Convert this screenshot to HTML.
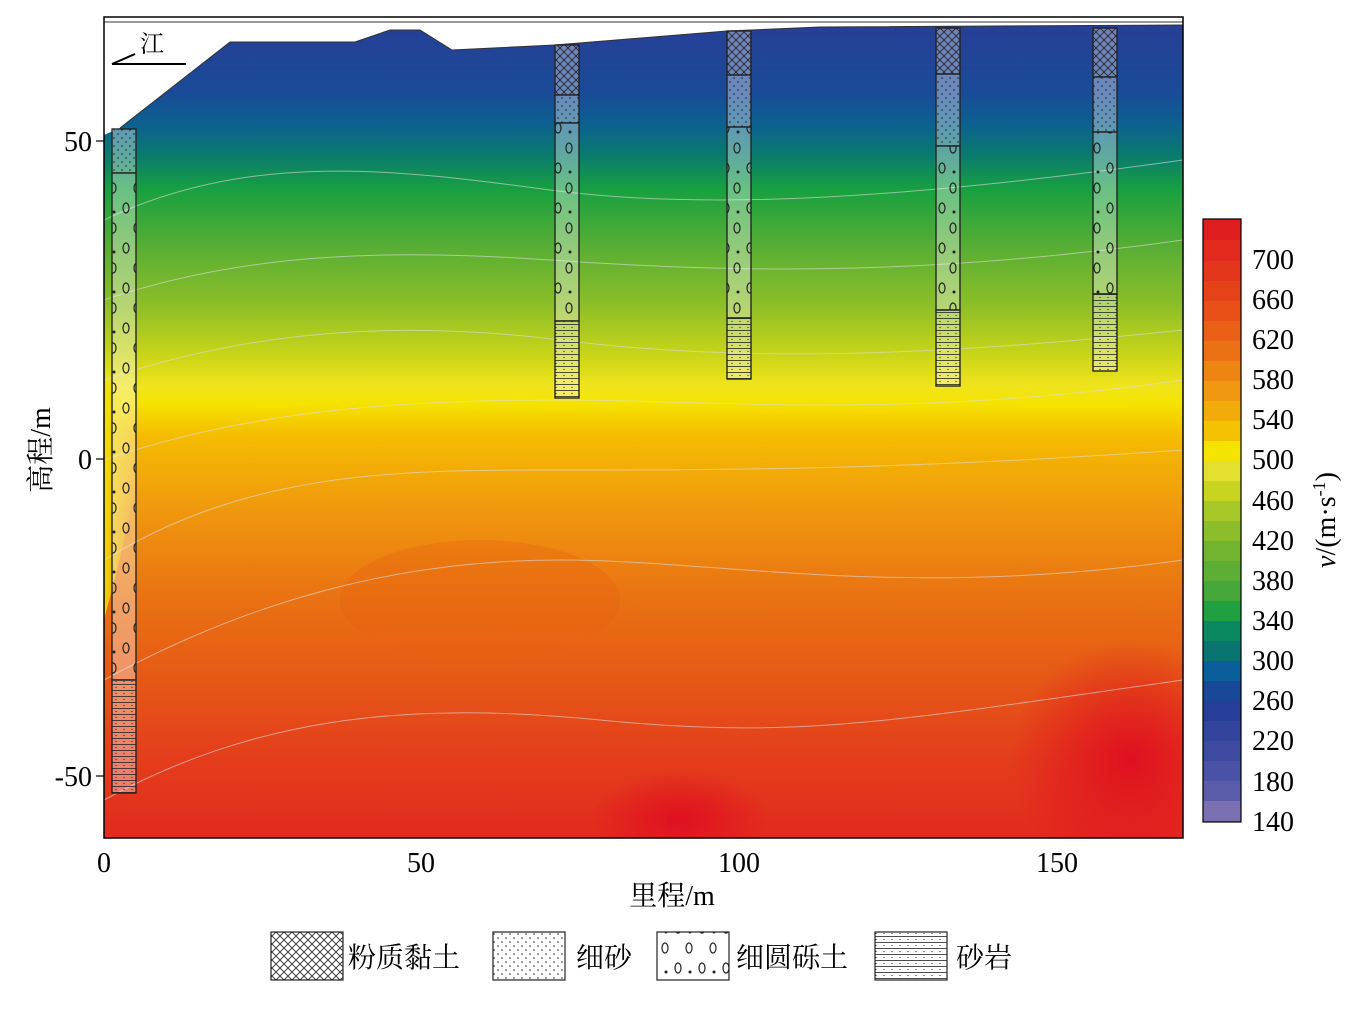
<!DOCTYPE html>
<html><head><meta charset="utf-8"><style>
body{margin:0;background:#fff;}
svg text{font-family:"Liberation Serif","Noto Serif CJK SC",serif;}
</style></head><body>
<svg width="1358" height="1011" viewBox="0 0 1358 1011" xmlns="http://www.w3.org/2000/svg">
<defs>
<clipPath id="pc"><rect x="104" y="17" width="1079" height="821"/></clipPath>
<linearGradient id="g" x1="0" y1="0" x2="0" y2="1" gradientUnits="objectBoundingBox">
<stop offset="0" stop-color="#283e96"/>
<stop offset="0.09" stop-color="#1a4a98"/>
<stop offset="0.13" stop-color="#0c6090"/>
<stop offset="0.17" stop-color="#0a7c6c"/>
<stop offset="0.21" stop-color="#18a040"/>
<stop offset="0.28" stop-color="#58ae34"/>
<stop offset="0.35" stop-color="#8cbe28"/>
<stop offset="0.41" stop-color="#c8d418"/>
<stop offset="0.45" stop-color="#f0e41c"/>
<stop offset="0.47" stop-color="#f5e400"/>
<stop offset="0.51" stop-color="#f5bc00"/>
<stop offset="0.60" stop-color="#f0980e"/>
<stop offset="0.70" stop-color="#ea7412"/>
<stop offset="0.80" stop-color="#e65a16"/>
<stop offset="0.90" stop-color="#e43e1c"/>
<stop offset="1" stop-color="#e22a1e"/>
</linearGradient>
<linearGradient id="gl" x1="0" y1="0" x2="1" y2="0">
<stop offset="0" stop-color="#f0e000" stop-opacity="0.9"/>
<stop offset="1" stop-color="#f0e000" stop-opacity="0"/>
</linearGradient>
<radialGradient id="rr" cx="0.5" cy="0.5" r="0.5">
<stop offset="0" stop-color="#e01020"/>
<stop offset="1" stop-color="#e01020" stop-opacity="0"/>
</radialGradient>
<pattern id="cross" width="8" height="8" patternUnits="userSpaceOnUse">
<path d="M0,0L8,8M8,0L0,8" stroke="#222" stroke-width="0.8"/>
</pattern>
<pattern id="dots" width="8" height="8" patternUnits="userSpaceOnUse">
<circle cx="2" cy="2" r="0.8" fill="#222"/><circle cx="6" cy="6" r="0.8" fill="#222"/>
</pattern>
<pattern id="gravel" width="24" height="40" patternUnits="userSpaceOnUse">
<ellipse cx="6" cy="8" rx="3" ry="5" fill="none" stroke="#222" stroke-width="1.2"/>
<ellipse cx="17" cy="28" rx="3" ry="5" fill="none" stroke="#222" stroke-width="1.2"/>
<circle cx="18" cy="12" r="1.5" fill="#222"/>
</pattern>
<pattern id="sand" width="8" height="6" patternUnits="userSpaceOnUse">
<path d="M0,0.5H8" stroke="#222" stroke-width="0.8"/>
<circle cx="4" cy="3.5" r="0.6" fill="#222"/>
</pattern>
</defs>
<g clip-path="url(#pc)">
<rect x="104" y="17" width="1079" height="821" fill="url(#g)"/>
<path d="M104,380 C160,420 130,520 104,620 Z" fill="url(#gl)"/>
<ellipse cx="1130" cy="760" rx="120" ry="120" fill="url(#rr)"/>
<ellipse cx="680" cy="820" rx="90" ry="50" fill="url(#rr)"/>
<ellipse cx="480" cy="600" rx="140" ry="60" fill="#e86012" opacity="0.35"/>
<g fill="none" stroke="#ddd" stroke-width="1" opacity="0.6">
<path d="M104,220 C250,150 400,170 550,190 S900,200 1183,160"/>
<path d="M104,300 C250,250 400,250 550,260 S900,280 1183,240"/>
<path d="M104,380 C250,330 400,320 560,340 S900,360 1183,330"/>
<path d="M104,460 C250,410 400,400 560,400 S900,420 1183,380"/>
<path d="M104,560 C250,470 400,470 560,470 S900,470 1183,450"/>
<path d="M104,680 C250,600 400,560 560,560 S900,600 1183,560"/>
<path d="M104,800 C250,720 400,700 600,720 S900,720 1183,680"/>
</g>
</g>
<path d="M104,17 H1183 V25 L820,27 L727,31 L555,45 L452,50 L420,30 L390,30 L355,42 L230,42 L120,128 L104,135 Z" fill="#fff"/>
<path d="M120,128 L230,42 L355,42 L390,30 L420,30 L452,50 L555,45 L727,31 L820,27 L1183,25" fill="none" stroke="#333" stroke-width="1"/>
<line x1="104" y1="22" x2="1183" y2="22" stroke="#333"/>
<rect x="104" y="17" width="1079" height="821" fill="none" stroke="#000" stroke-width="1.5"/>
<path d="M112,64 L135,54 M112,64 H186" stroke="#000" stroke-width="2" fill="none"/>
<text x="140" y="52" font-size="24">江</text>
<g stroke="#222" stroke-width="1.2">
<rect x="112" y="129" width="24" height="44" fill="#fff" fill-opacity="0.35"/><rect x="112" y="129" width="24" height="44" fill="url(#dots)"/>
<rect x="112" y="173" width="24" height="507" fill="#fff" fill-opacity="0.35"/><rect x="112" y="173" width="24" height="507" fill="url(#gravel)"/>
<rect x="112" y="680" width="24" height="113" fill="#fff" fill-opacity="0.35"/><rect x="112" y="680" width="24" height="113" fill="url(#sand)"/>
<rect x="555" y="45" width="24" height="50" fill="#fff" fill-opacity="0.35"/><rect x="555" y="45" width="24" height="50" fill="url(#cross)"/>
<rect x="555" y="95" width="24" height="28" fill="#fff" fill-opacity="0.35"/><rect x="555" y="95" width="24" height="28" fill="url(#dots)"/>
<rect x="555" y="123" width="24" height="198" fill="#fff" fill-opacity="0.35"/><rect x="555" y="123" width="24" height="198" fill="url(#gravel)"/>
<rect x="555" y="321" width="24" height="77" fill="#fff" fill-opacity="0.35"/><rect x="555" y="321" width="24" height="77" fill="url(#sand)"/>
<rect x="727" y="31" width="24" height="44" fill="#fff" fill-opacity="0.35"/><rect x="727" y="31" width="24" height="44" fill="url(#cross)"/>
<rect x="727" y="75" width="24" height="52" fill="#fff" fill-opacity="0.35"/><rect x="727" y="75" width="24" height="52" fill="url(#dots)"/>
<rect x="727" y="127" width="24" height="191" fill="#fff" fill-opacity="0.35"/><rect x="727" y="127" width="24" height="191" fill="url(#gravel)"/>
<rect x="727" y="318" width="24" height="61" fill="#fff" fill-opacity="0.35"/><rect x="727" y="318" width="24" height="61" fill="url(#sand)"/>
<rect x="936" y="28" width="24" height="46" fill="#fff" fill-opacity="0.35"/><rect x="936" y="28" width="24" height="46" fill="url(#cross)"/>
<rect x="936" y="74" width="24" height="72" fill="#fff" fill-opacity="0.35"/><rect x="936" y="74" width="24" height="72" fill="url(#dots)"/>
<rect x="936" y="146" width="24" height="164" fill="#fff" fill-opacity="0.35"/><rect x="936" y="146" width="24" height="164" fill="url(#gravel)"/>
<rect x="936" y="310" width="24" height="76" fill="#fff" fill-opacity="0.35"/><rect x="936" y="310" width="24" height="76" fill="url(#sand)"/>
<rect x="1093" y="28" width="24" height="49" fill="#fff" fill-opacity="0.35"/><rect x="1093" y="28" width="24" height="49" fill="url(#cross)"/>
<rect x="1093" y="77" width="24" height="55" fill="#fff" fill-opacity="0.35"/><rect x="1093" y="77" width="24" height="55" fill="url(#dots)"/>
<rect x="1093" y="132" width="24" height="162" fill="#fff" fill-opacity="0.35"/><rect x="1093" y="132" width="24" height="162" fill="url(#gravel)"/>
<rect x="1093" y="294" width="24" height="77" fill="#fff" fill-opacity="0.35"/><rect x="1093" y="294" width="24" height="77" fill="url(#sand)"/>
</g>
<g stroke="#000" stroke-width="1.2">
<line x1="104" y1="141" x2="96" y2="141"/><line x1="104" y1="459" x2="96" y2="459"/><line x1="104" y1="776" x2="96" y2="776"/>
</g>
<g font-size="28" fill="#000">
<text x="92" y="151" text-anchor="end">50</text>
<text x="92" y="469" text-anchor="end">0</text>
<text x="92" y="786" text-anchor="end">-50</text>
<text x="104" y="872" text-anchor="middle">0</text>
<text x="421" y="872" text-anchor="middle">50</text>
<text x="739" y="872" text-anchor="middle">100</text>
<text x="1057" y="872" text-anchor="middle">150</text>
<text x="672" y="905" text-anchor="middle">里程/m</text>
<text transform="translate(50,450) rotate(-90)" text-anchor="middle">高程/m</text>
</g>
<g stroke="none">
<rect x="1203" y="219" width="38" height="21" fill="#e01e20"/>
<rect x="1203" y="240" width="38" height="21" fill="#e22a1e"/>
<rect x="1203" y="261" width="38" height="20" fill="#e3361c"/>
<rect x="1203" y="281" width="38" height="20" fill="#e5421a"/>
<rect x="1203" y="301" width="38" height="20" fill="#e85018"/>
<rect x="1203" y="321" width="38" height="20" fill="#ea6016"/>
<rect x="1203" y="341" width="38" height="20" fill="#ec7014"/>
<rect x="1203" y="361" width="38" height="20" fill="#ee8412"/>
<rect x="1203" y="381" width="38" height="20" fill="#f09810"/>
<rect x="1203" y="401" width="38" height="20" fill="#f2ac0a"/>
<rect x="1203" y="421" width="38" height="20" fill="#f5c200"/>
<rect x="1203" y="441" width="38" height="20" fill="#f5e400"/>
<rect x="1203" y="461" width="38" height="20" fill="#e4e030"/>
<rect x="1203" y="481" width="38" height="20" fill="#c8d420"/>
<rect x="1203" y="501" width="38" height="20" fill="#a6c828"/>
<rect x="1203" y="521" width="38" height="20" fill="#8cbe2c"/>
<rect x="1203" y="541" width="38" height="20" fill="#72b430"/>
<rect x="1203" y="561" width="38" height="20" fill="#5cae34"/>
<rect x="1203" y="581" width="38" height="20" fill="#46a838"/>
<rect x="1203" y="601" width="38" height="20" fill="#20a040"/>
<rect x="1203" y="621" width="38" height="20" fill="#0a8860"/>
<rect x="1203" y="641" width="38" height="20" fill="#0a7470"/>
<rect x="1203" y="661" width="38" height="20" fill="#0a5e9a"/>
<rect x="1203" y="681" width="38" height="20" fill="#1a4898"/>
<rect x="1203" y="701" width="38" height="20" fill="#263e98"/>
<rect x="1203" y="721" width="38" height="20" fill="#32449c"/>
<rect x="1203" y="741" width="38" height="20" fill="#3e4aa0"/>
<rect x="1203" y="761" width="38" height="20" fill="#4a52a6"/>
<rect x="1203" y="781" width="38" height="20" fill="#5a5caa"/>
<rect x="1203" y="801" width="38" height="21" fill="#7a70b2"/>
</g>
<rect x="1203" y="219" width="38" height="603" fill="none" stroke="#000" stroke-width="1.2"/>
<g font-size="28">
<text x="1252" y="269">700</text><text x="1252" y="309">660</text><text x="1252" y="349">620</text>
<text x="1252" y="389">580</text><text x="1252" y="429">540</text><text x="1252" y="469">500</text>
<text x="1252" y="510">460</text><text x="1252" y="550">420</text><text x="1252" y="590">380</text>
<text x="1252" y="630">340</text><text x="1252" y="670">300</text><text x="1252" y="710">260</text>
<text x="1252" y="750">220</text><text x="1252" y="791">180</text><text x="1252" y="831">140</text>
<text transform="translate(1335,520) rotate(-90)" text-anchor="middle"><tspan font-style="italic">v</tspan>/(m·s<tspan font-size="18" dy="-10">-1</tspan><tspan dy="10">)</tspan></text>
</g>
<g stroke="#222" stroke-width="1.2">
<rect x="271" y="932" width="72" height="48" fill="url(#cross)"/>
<rect x="493" y="932" width="72" height="48" fill="url(#dots)"/>
<rect x="657" y="932" width="72" height="48" fill="url(#gravel)"/>
<rect x="875" y="932" width="72" height="48" fill="url(#sand)"/>
</g>
<g font-size="28" font-family="'Noto Serif CJK SC',serif">
<text x="348" y="967">粉质黏土</text>
<text x="576" y="967">细砂</text>
<text x="736" y="967">细圆砾土</text>
<text x="956" y="967">砂岩</text>
</g>
</svg>
</body></html>
